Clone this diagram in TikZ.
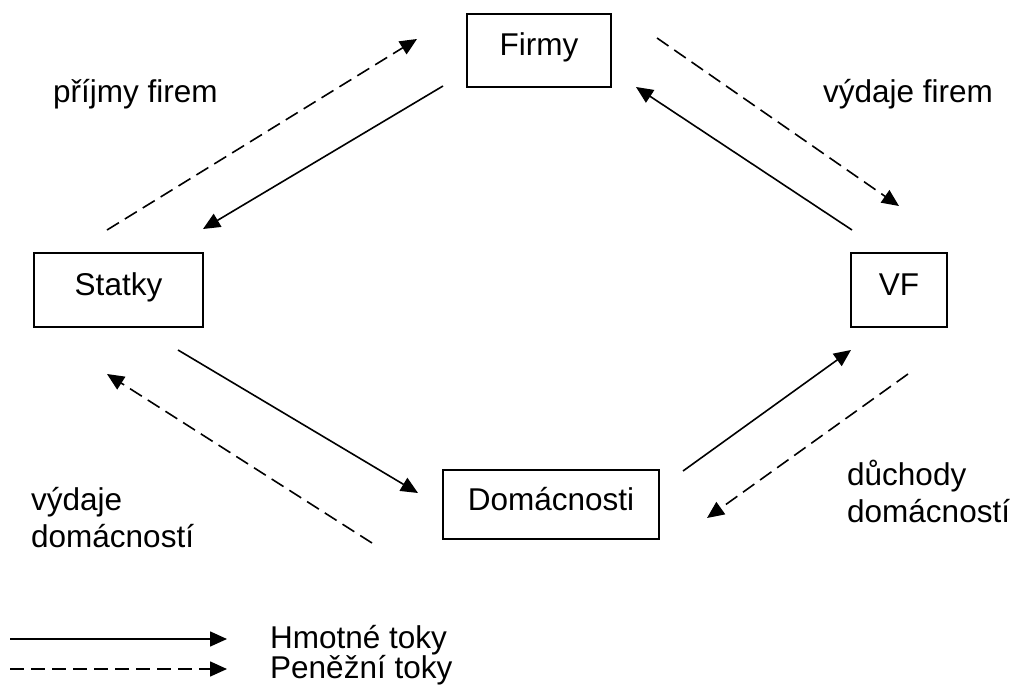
\documentclass[tikz,border=0pt]{standalone}
\usepackage{fontspec}
\setmainfont{Liberation Sans}
\usetikzlibrary{arrows.meta}
\newcommand\dlabelfont{\fontsize{31.5}{37}\selectfont}
\begin{document}
\begin{tikzpicture}[x=1pt,y=-1pt,
  box/.style={draw,line width=1.9pt,rectangle,inner sep=0pt,text height=23pt,text depth=12pt,font=\dlabelfont},
  lbl/.style={inner sep=0pt,font=\dlabelfont,align=left,anchor=base west},
  matflow/.style={line width=1.6pt,-{Triangle[length=17pt,width=15pt]}},
  moneyflow/.style={matflow,dash pattern=on 14pt off 7pt}
]
\useasboundingbox (0,0) rectangle (1013,696);
% boxes
\node[box,minimum width=144pt,minimum height=73pt] (firmy) at (539,50.5) {Firmy};
\node[box,minimum width=169pt,minimum height=74pt] (statky) at (118.5,290) {Statky};
\node[box,minimum width=96pt,minimum height=74pt] (vf) at (899,290) {VF};
\node[box,minimum width=216pt,minimum height=69pt] (dom) at (551,504.5) {Domácnosti};
% labels
\node[lbl] (prijmy) at (53,102) {příjmy firem};
\node[lbl] (vydfir) at (823,102) {výdaje firem};
\node[lbl] (vyddom) at (31,547) {výdaje\\domácností};
\node[lbl] (duch) at (847,522) {důchody\\domácností};
% connector end points
\coordinate (a1) at (107,230); \coordinate (b1) at (417,39);
\coordinate (a2) at (443,86);  \coordinate (b2) at (203,229);
\coordinate (a3) at (657,38);  \coordinate (b3) at (899,206);
\coordinate (a4) at (852,230); \coordinate (b4) at (636,87);
\coordinate (a5) at (178,350); \coordinate (b5) at (418,493);
\coordinate (a6) at (372,543); \coordinate (b6) at (107,374);
\coordinate (a7) at (683,471); \coordinate (b7) at (851,350);
\coordinate (a8) at (908,374); \coordinate (b8) at (707,518);
\draw[moneyflow] (a1) -- (b1);
\draw[matflow] (a2) -- (b2);
\draw[moneyflow] (a3) -- (b3);
\draw[matflow] (a4) -- (b4);
\draw[matflow] (a5) -- (b5);
\draw[moneyflow] (a6) -- (b6);
\draw[matflow] (a7) -- (b7);
\draw[moneyflow] (a8) -- (b8);
% legend
\coordinate (la1) at (10,639); \coordinate (lb1) at (227,639);
\coordinate (la2) at (10,669); \coordinate (lb2) at (227,669);
\draw[matflow] (la1) -- (lb1);
\draw[moneyflow] (la2) -- (lb2);
\node[lbl] (leg1) at (270,648) {Hmotné toky};
\node[lbl] (leg2) at (270,678) {Peněžní toky};
\end{tikzpicture}
\end{document}
